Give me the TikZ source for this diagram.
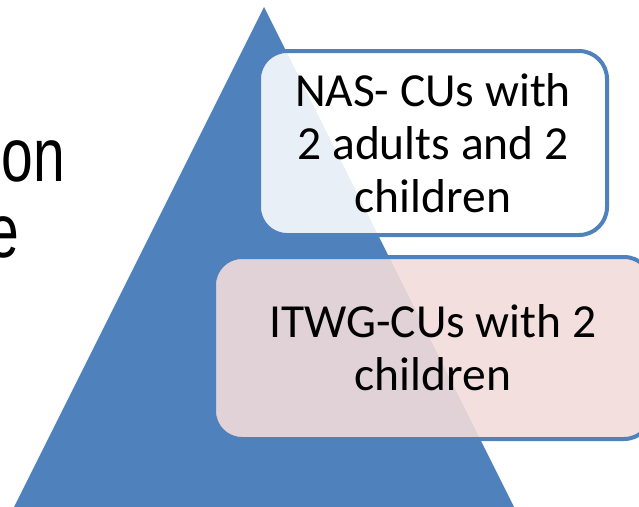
\documentclass[tikz,border=0pt]{standalone}
\usepackage{fontspec}
\setmainfont{Carlito}
\newfontfamily\bgfont{Liberation Sans}
\definecolor{accblue}{HTML}{4F81BD}
\definecolor{accpink}{HTML}{F2DCDB}
\begin{document}
\begin{tikzpicture}[x=1pt,y=-1pt,
  boxtext/.style={font=\fontsize{47.5}{53}\selectfont, align=center, text=black, inner sep=0pt},
  levelbox/.style={rectangle, rounded corners=28pt, draw=accblue, line width=4pt, boxtext},
  bgtext/.style={font=\bgfont\fontsize{76}{76}\selectfont, inner sep=0pt, anchor=base east, text=black}]
\useasboundingbox (0,0) rectangle (639,506);
\clip (0,0) rectangle (639,506);
\fill[white] (0,0) rectangle (639,506);
% background text (cropped)
\node[bgtext] (t1) at (65,181) {\scalebox{0.75}[1]{on}};
\node[bgtext] (t2) at (19,257) {\scalebox{0.75}[1]{e}};
% pyramid
\fill[accblue] (264,7) -- (7,521) -- (521,521) -- cycle;
% boxes
\node[levelbox, fill=white, fill opacity=0.875, text opacity=1,
      minimum width=348pt, minimum height=184pt] (nas) at (433,143)
  {NAS- CUs with\\2 adults and 2\\children};
\node[levelbox, fill=accpink, fill opacity=0.89, text opacity=1,
      minimum width=438pt, minimum height=182pt] (itwg) at (433,348)
  {ITWG-CUs with 2\\children};
\end{tikzpicture}
\end{document}
